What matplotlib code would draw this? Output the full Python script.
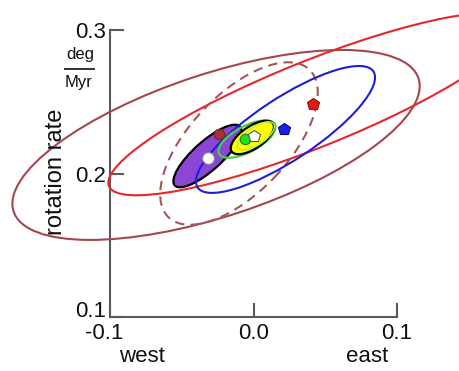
import matplotlib
matplotlib.use("Agg")
import matplotlib.pyplot as plt
from matplotlib.patches import Ellipse
from matplotlib.transforms import blended_transform_factory, ScaledTranslation

plt.rcParams['font.family'] = ['Liberation Sans', 'DejaVu Sans']
plt.rcParams['axes.unicode_minus'] = False

# Ellipses: center x, center y, width, height, angle (deg)
brown_ell = (-0.0261, 0.2199, 0.297, 0.0994, 18.2)
red_ell = (0.0415, 0.2484, 0.3066, 0.060, 21.9)
dashed_ell = (-0.0101, 0.2209, 0.1422, 0.0683, 46.4)
blue_ell = (0.0223, 0.2307, 0.1468, 0.0431, 33.4)
purple_ell = (-0.0321, 0.2122, 0.0613, 0.0200, 42.0)
green_ell = (-0.0045, 0.2240, 0.0440, 0.0180, 28.0)
yellow_ell = (-0.0008, 0.2251, 0.0348, 0.0155, 34.0)
lightgreen_ell = (0.0017, 0.2262, 0.0300, 0.0125, 34.0)

# Point estimates
white_circle = (-0.0317, 0.2108)
darkred_circle = (-0.0237, 0.2275)
green_circle = (-0.0056, 0.2237)
white_pent = (0.0003, 0.2261)
blue_pent = (0.0213, 0.2307)
red_pent = (0.0415, 0.2484)

xticks = [-0.1, 0.0, 0.1]
xticklabels = ['-0.1', '0.0', '0.1']
yticks = [0.1, 0.2, 0.3]
yticklabels = ['0.1', '0.2', '0.3']

fig = plt.figure(figsize=(4.59, 3.71), dpi=100)
ax = fig.add_axes([110/459, 54/371, 287/459, 287/371])
ax.set_xlim(-0.1, 0.1)
ax.set_ylim(0.1, 0.3)

def ell(p, **kw):
    e = Ellipse((p[0], p[1]), p[2], p[3], angle=p[4], clip_on=False, **kw)
    ax.add_patch(e)
    return e

ell(purple_ell, facecolor='#8a46d4', edgecolor='black', lw=1.6, zorder=2)
ell(brown_ell, facecolor='none', edgecolor='#a3474d', lw=1.5, zorder=3)
ell(red_ell, facecolor='none', edgecolor='#e8262c', lw=1.5, zorder=3)
ell(dashed_ell, facecolor='none', edgecolor='#a3565a', lw=1.5,
    linestyle=(0, (4.5, 3)), zorder=3)
ell(blue_ell, facecolor='none', edgecolor='#1e1ed8', lw=1.5, zorder=3)
ell(green_ell, facecolor='none', edgecolor='#45d045', lw=1.6, zorder=4)
ell(yellow_ell, facecolor='#ffff00', edgecolor='black', lw=1.6, zorder=5)
ell(lightgreen_ell, facecolor='none', edgecolor='#b0ea5a', lw=1.0, zorder=6)

mk = dict(linestyle='none', zorder=7, clip_on=False)
ax.plot(*white_circle, marker='o', ms=8.5, mfc='white', mec='#888888', mew=0.8, **mk)
ax.plot(*darkred_circle, marker='o', ms=7.5, mfc='#a8323a', mec='#7a2020', mew=0.8, **mk)
ax.plot(*green_circle, marker='o', ms=7.5, mfc='#22dd22', mec='#118811', mew=0.8, **mk)
ax.plot(*white_pent, marker='p', ms=9, mfc='white', mec='#555555', mew=0.8, **mk)
ax.plot(*blue_pent, marker='p', ms=9, mfc='#1a22e0', mec='#0a0a80', mew=0.8, **mk)
ax.plot(*red_pent, marker='p', ms=9, mfc='#e81818', mec='#8a1010', mew=0.8, **mk)

for s in ['top', 'right']:
    ax.spines[s].set_visible(False)
for s in ['left', 'bottom']:
    ax.spines[s].set_color('#5a5a5a')
    ax.spines[s].set_linewidth(1.5)

ax.set_xticks(xticks)
ax.set_xticklabels(xticklabels)
ax.set_yticks(yticks)
ax.set_yticklabels(yticklabels)
ax.tick_params(direction='in', length=10, width=1.5, color='#5a5a5a',
               labelsize=16, pad=3, labelcolor='#111111')
ax.tick_params(axis='x', pad=4)

# bottom y label sits on the axis line, -0.1 nudged left as in the reference
ax.get_yticklabels()[0].set_va('baseline')
xl0 = ax.get_xticklabels()[0]
xl0.set_transform(xl0.get_transform() + ScaledTranslation(-6/100, 0, fig.dpi_scale_trans))

trans = blended_transform_factory(ax.transData, fig.transFigure)
ax.text(-0.078, 1 - 357/371, 'west', transform=trans, ha='center', va='center',
        fontsize=16, color='#111111')
ax.text(0.079, 1 - 357/371, 'east', transform=trans, ha='center', va='center',
        fontsize=16, color='#111111')

fig.text(56/459, 1 - 172/371, 'rotation rate', rotation=90, ha='center', va='center',
         fontsize=17, color='#111111')
fig.text(80/459, 1 - 55/371, 'deg', ha='center', va='center', fontsize=12, color='#111111')
fig.text(79/459, 1 - 82/371, 'Myr', ha='center', va='center', fontsize=12, color='#111111')
fig.add_artist(plt.Line2D([65/459, 94/459], [1 - 69/371, 1 - 69/371],
                          transform=fig.transFigure, color='#333333', lw=1.4))

fig.savefig('out.png', dpi=100)
